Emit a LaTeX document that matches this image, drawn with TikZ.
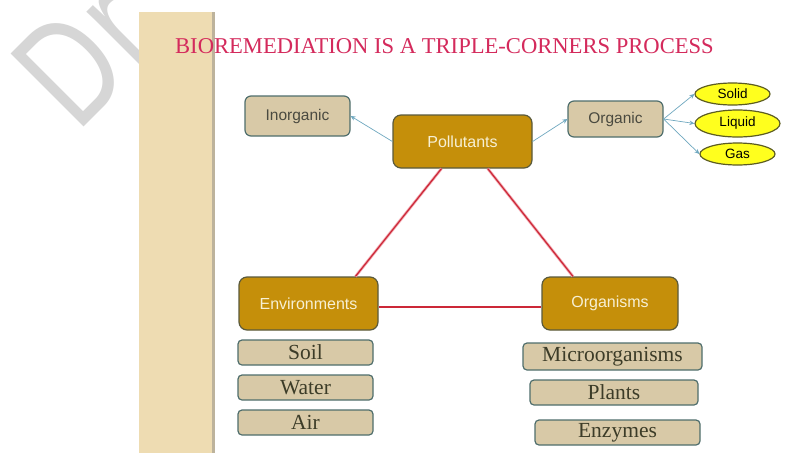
\documentclass[tikz,border=0pt]{standalone}
\usepackage{fontspec}
\setmainfont{Liberation Serif}
\newfontfamily\lsans{Liberation Sans}
\usetikzlibrary{arrows.meta,calc,shapes.geometric}
\definecolor{barfill}{HTML}{EEDCB2}
\definecolor{barshadow}{HTML}{BDB39C}
\definecolor{titlecol}{HTML}{D42A5C}
\definecolor{tanfill}{HTML}{D8C9A7}
\definecolor{tanedge}{HTML}{4F6E6C}
\definecolor{goldfill}{HTML}{C58F0A}
\definecolor{goldedge}{HTML}{5A5A3C}
\definecolor{goldtext}{HTML}{F7F0D4}
\definecolor{sanstext}{HTML}{4A4A40}
\definecolor{seriftext}{HTML}{3C3C28}
\definecolor{yellowfill}{HTML}{FFFF1E}
\definecolor{yellowedge}{HTML}{5C5C22}
\definecolor{arrowcol}{HTML}{6FA8C0}
\definecolor{redline}{HTML}{CC2838}
\definecolor{redhalo}{HTML}{F2A8B0}
\definecolor{wmark}{HTML}{D6D6D6}
\tikzset{
  tanbox/.style={draw=tanedge, line width=1.2pt, fill=tanfill, rounded corners=6pt,
    inner sep=0pt, text=sanstext, font=\lsans\fontsize{15.5}{18}\selectfont},
  goldbox/.style={draw=goldedge, line width=1.2pt, fill=goldfill, rounded corners=8pt,
    inner sep=0pt, minimum width=139pt, minimum height=53pt, text=goldtext,
    font=\lsans\fontsize{16}{19}\selectfont},
  subbox/.style={draw=tanedge, line width=1.2pt, fill=tanfill, rounded corners=4pt,
    inner sep=0pt, text=seriftext, font=\fontsize{21.5}{24}\selectfont},
  state/.style={ellipse, draw=yellowedge, line width=1.2pt, fill=yellowfill,
    inner sep=0pt, text=black, font=\lsans\fontsize{13.5}{16}\selectfont},
  blue arrow/.style={draw=arrowcol, line width=0.7pt, -{Stealth[length=5pt,width=4.5pt]}},
  red halo/.style={draw=redhalo, line width=2.8pt},
  red core/.style={draw=redline, line width=1.2pt},
}
\begin{document}
\begin{tikzpicture}[x=1pt,y=-1pt]
\useasboundingbox (0,0) rectangle (802,453);
\fill[white] (0,0) rectangle (802,453);
% watermark
\node[rotate=45, anchor=base west, inner sep=0pt, text=wmark,
  font=\lsans\fontsize{150}{150}\selectfont] (wm) at (77,134) {\scalebox{0.75}[1]{D\kern0.04em r}};
% side bar
\fill[barfill] (139,12) rectangle (212,453);
\fill[barshadow] (212,12) rectangle (214.5,453);
% title
\node[text=titlecol, font=\fontsize{22.6}{26}\selectfont, inner sep=0pt] (title) at (444.5,46)
  {BIOREMEDIATION IS A TRIPLE-CORNERS PROCESS};
% top row
\node[tanbox, minimum width=105pt, minimum height=40pt] (inorg) at (297.5,116) {Inorganic};
\node[goldbox] (poll) at (462.5,141.5) {Pollutants};
\node[tanbox, minimum width=95pt, minimum height=36pt] (org) at (615.5,119) {Organic};
\node[state, minimum width=75pt, minimum height=22pt] (solid) at (732.5,94) {Solid};
\node[state, minimum width=85pt, minimum height=27pt] (liquid) at (737.5,123.5) {Liquid};
\node[state, minimum width=75pt, minimum height=22pt] (gas) at (737.5,154) {Gas};
% corners
\node[goldbox] (env) at (308.5,303.5) {Environments};
\node[goldbox, minimum width=136pt] (orgs) at (610,303.5) {Organisms};
% sub boxes
\node[subbox, minimum width=135pt, minimum height=25pt] (soil) at (305.5,352.5) {Soil};
\node[subbox, minimum width=135pt, minimum height=25pt] (water) at (305.5,387.5) {Water};
\node[subbox, minimum width=135pt, minimum height=25pt] (air) at (305.5,422.5) {Air};
\node[subbox, minimum width=179pt, minimum height=27pt] (micro) at (612.5,356.5) {Microorganisms};
\node[subbox, minimum width=168pt, minimum height=25pt] (plants) at (614,392.5) {Plants};
\node[subbox, minimum width=165pt, minimum height=25pt] (enz) at (617.5,432.5) {Enzymes};
% blue arrows
\draw[blue arrow] (poll.west) -- (inorg.east);
\draw[blue arrow] (poll.east) -- (org.west);
\draw[blue arrow] (org.east) -- (solid.west);
\draw[blue arrow] (org.east) -- (liquid.west);
\draw[blue arrow] (org.east) -- (gas.west);
% red triangle
\coordinate (pl) at ($(poll.south west)!0.35!(poll.south east)$);
\coordinate (pr) at ($(poll.south west)!0.68!(poll.south east)$);
\coordinate (et) at ($(env.north west)!0.835!(env.north east)$);
\coordinate (ot) at ($(orgs.north west)!0.23!(orgs.north east)$);
\coordinate (er) at ([yshift=-3.5pt]env.east);
\coordinate (ol) at ([yshift=-3.5pt]orgs.west);
\foreach \s in {red halo, red core}{
  \draw[\s] (pl) -- (et);
  \draw[\s] (pr) -- (ot);
  \draw[\s] (er) -- (ol);
}
\end{tikzpicture}
\end{document}
